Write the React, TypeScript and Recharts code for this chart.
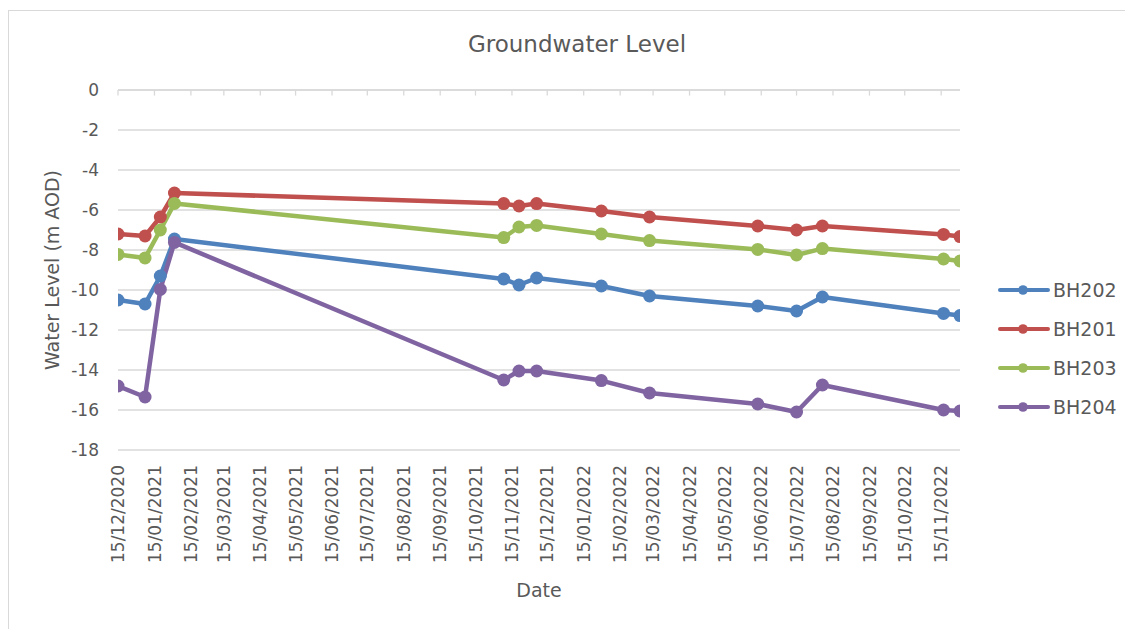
import React from 'react';
import { LineChart, Line, XAxis, YAxis, CartesianGrid, Legend, Label, ReferenceLine } from 'recharts';

const FONT = '"DejaVu Sans", sans-serif';
const TEXT = '#595959';
const GRID = '#d9d9d9';

// Sample dates (YYYY-MM-DD)
const sampleDates = [
  '2020-12-15', '2021-01-07', '2021-01-20', '2021-02-01', '2021-11-08', '2021-11-21', '2021-12-06',
  '2022-01-30', '2022-03-12', '2022-06-12', '2022-07-15', '2022-08-06', '2022-11-17', '2022-12-01',
];

const bh202 = [-10.5, -10.7, -9.3, -7.45, -9.45, -9.75, -9.4, -9.8, -10.3, -10.8, -11.05, -10.35, -11.17, -11.28];
const bh201 = [-7.2, -7.3, -6.35, -5.15, -5.68, -5.8, -5.68, -6.05, -6.35, -6.8, -7.0, -6.8, -7.22, -7.33];
const bh203 = [-8.22, -8.4, -7.0, -5.67, -7.38, -6.85, -6.77, -7.2, -7.53, -7.97, -8.25, -7.93, -8.45, -8.55];
const bh204 = [-14.8, -15.35, -9.97, -7.62, -14.5, -14.05, -14.05, -14.53, -15.15, -15.7, -16.1, -14.75, -16.0, -16.05];

const tickLabels = [
  '15/12/2020', '15/01/2021', '15/02/2021', '15/03/2021', '15/04/2021', '15/05/2021', '15/06/2021',
  '15/07/2021', '15/08/2021', '15/09/2021', '15/10/2021', '15/11/2021', '15/12/2021', '15/01/2022',
  '15/02/2022', '15/03/2022', '15/04/2022', '15/05/2022', '15/06/2022', '15/07/2022', '15/08/2022',
  '15/09/2022', '15/10/2022', '15/11/2022',
];

const yTicks = [0, -2, -4, -6, -8, -10, -12, -14, -16, -18];
// Axis crosses at y = 0; its tick marks hang down by this many value units
const axisCross = 0;
const tickMarkDepth = 0.28;

const series = [
  { name: 'BH202', values: bh202, color: '#4F81BD' },
  { name: 'BH201', values: bh201, color: '#C0504D' },
  { name: 'BH203', values: bh203, color: '#9BBB59' },
  { name: 'BH204', values: bh204, color: '#8064A2' },
];

const isoToTs = (s: string) => Date.UTC(+s.slice(0, 4), +s.slice(5, 7) - 1, +s.slice(8, 10));
const dmyToTs = (s: string) => Date.UTC(+s.slice(6, 10), +s.slice(3, 5) - 1, +s.slice(0, 2));
const pad = (n: number) => (n < 10 ? '0' + n : '' + n);
const fmt = (t: number) => {
  const d = new Date(t);
  return `${pad(d.getUTCDate())}/${pad(d.getUTCMonth() + 1)}/${d.getUTCFullYear()}`;
};

const data = sampleDates.map((d, i) => {
  const row: any = { t: isoToTs(d) };
  series.forEach((s) => {
    row[s.name] = s.values[i];
  });
  return row;
});

const xTicks = tickLabels.map(dmyToTs);
const xMin = isoToTs(sampleDates[0]);
const xMax = isoToTs(sampleDates[sampleDates.length - 1]);

const DateTick = (props: any) => {
  const { x, y, payload } = props;
  return (
    <g transform={`translate(${x},${y})`}>
      <text transform="rotate(-90)" textAnchor="end" dy="0.36em" fill={TEXT} fontSize={17} fontFamily={FONT}>
        {fmt(payload.value)}
      </text>
    </g>
  );
};

const renderLegend = () => {
  return (
    <div style={{ fontFamily: FONT }}>
      {series.map((s) => (
        <div key={s.name} style={{ display: 'flex', alignItems: 'center', height: 39 }}>
          <svg width={55} height={14} style={{ display: 'block' }}>
            <line x1={2} x2={50} y1={7} y2={7} stroke={s.color} strokeWidth={4} strokeLinecap="round" />
            <circle cx={25} cy={7} r={4.8} fill={s.color} />
          </svg>
          <span style={{ fontSize: 19, color: TEXT, lineHeight: '19px' }}>{s.name}</span>
        </div>
      ))}
    </div>
  );
};

export default function App() {
  return (
    <div style={{ position: 'relative', width: 1125, height: 621, overflow: 'hidden', fontFamily: FONT }}>
      <div
        style={{
          position: 'absolute',
          left: 0,
          top: 2,
          width: 1160,
          height: 660,
          border: `1px solid ${GRID}`,
          boxSizing: 'border-box',
        }}
      />
      <div
        style={{
          position: 'absolute',
          left: 369,
          top: 25,
          width: 400,
          textAlign: 'center',
          fontSize: 23,
          lineHeight: '23px',
          color: TEXT,
        }}
      >
        Groundwater Level
      </div>
      <div style={{ position: 'absolute', left: 0, top: 0 }}>
        <LineChart width={1125} height={621} data={data} margin={{ top: 82, right: 173, bottom: 0, left: 0 }}>
          <CartesianGrid horizontal vertical={false} stroke={GRID} strokeWidth={1.3} />
          <XAxis
            dataKey="t"
            type="number"
            domain={[xMin, xMax]}
            allowDataOverflow
            ticks={xTicks}
            interval={0}
            height={179}
            axisLine={false}
            tickLine={false}
            tickSize={0}
            tickMargin={15}
            tick={<DateTick />}
          >
            <Label value="Date" position="insideBottom" offset={32} fill={TEXT} fontSize={19} fontFamily={FONT} />
          </XAxis>
          <YAxis
            type="number"
            domain={[-18, 0]}
            ticks={yTicks}
            interval={0}
            width={110}
            axisLine={false}
            tickLine={false}
            tickSize={0}
            tickMargin={19}
            tick={{ fill: TEXT, fontSize: 17, fontFamily: FONT }}
          >
            <Label
              value="Water Level (m AOD)"
              angle={-90}
              position="center"
              dx={-11}
              fill={TEXT}
              fontSize={19}
              fontFamily={FONT}
            />
          </YAxis>
          <ReferenceLine y={axisCross} stroke={GRID} strokeWidth={1.3} ifOverflow="visible" />
          {xTicks.map((t) => (
            <ReferenceLine
              key={t}
              segment={[
                { x: t, y: axisCross },
                { x: t, y: axisCross - tickMarkDepth },
              ]}
              stroke={GRID}
              strokeWidth={1.3}
              ifOverflow="visible"
            />
          ))}
          <Legend
            layout="vertical"
            align="center"
            verticalAlign="middle"
            wrapperStyle={{ left: 990, top: 262.5, width: 135 }}
            content={renderLegend}
          />
          {series.map((s) => (
            <Line
              key={s.name}
              dataKey={s.name}
              name={s.name}
              type="linear"
              stroke={s.color}
              strokeWidth={4.5}
              strokeLinejoin="round"
              dot={{ r: 6.5, fill: s.color, stroke: s.color, strokeWidth: 0 }}
              activeDot={false}
              isAnimationActive={false}
            />
          ))}
        </LineChart>
      </div>
    </div>
  );
}
